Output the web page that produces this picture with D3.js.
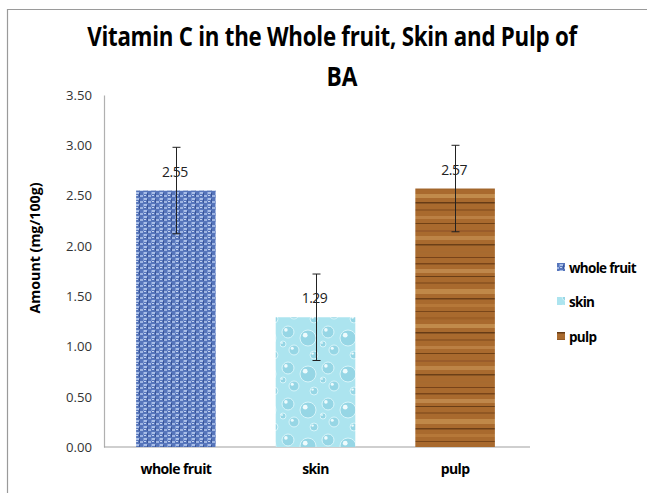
<!DOCTYPE html>
<html>
<head>
<meta charset="utf-8">
<script src="https://cdn.jsdelivr.net/npm/d3@7"></script>
<style>
body { margin: 0; background: #fff; }
svg { display: block; }
</style>
</head>
<body>
<svg id="chart" width="647" height="493"></svg>
<script>
const categories = ["whole fruit", "skin", "pulp"];
const values = [2.55, 1.29, 2.57];
const valueLabels = ["2.55", "1.29", "2.57"];
const errors = [0.43, 0.43, 0.43];
const yTicks = [0, 0.5, 1.0, 1.5, 2.0, 2.5, 3.0, 3.5];
const titleLines = ["Vitamin C in the Whole fruit, Skin and Pulp of", "BA"];
const yAxisTitle = "Amount (mg/100g)";
const patternIds = ["patWhole", "patSkin", "patPulp"];

const svg = d3.select("#chart");
const W = 647, H = 493;
const font = "Open Sans, Liberation Sans, sans-serif";

// frame (top and left border)
svg.append("line").attr("x1", 7).attr("x2", W).attr("y1", 9.5).attr("y2", 9.5).attr("stroke", "#9a9a9a").attr("stroke-width", 1.2);
svg.append("line").attr("x1", 7.5).attr("x2", 7.5).attr("y1", 9).attr("y2", H).attr("stroke", "#9a9a9a").attr("stroke-width", 1.2);

const defs = svg.append("defs");

// whole fruit: blue woven texture
const pw = defs.append("pattern").attr("id", "patWhole").attr("patternUnits", "userSpaceOnUse").attr("width", 8).attr("height", 6);
pw.append("rect").attr("width", 8).attr("height", 6).attr("fill", "#5675bb");
pw.append("rect").attr("x", 0).attr("y", 0).attr("width", 3).attr("height", 2).attr("fill", "#a9bfe8");
pw.append("rect").attr("x", 4).attr("y", 3).attr("width", 3).attr("height", 2).attr("fill", "#9db4e2");
pw.append("rect").attr("x", 3).attr("y", 1).attr("width", 1).attr("height", 4).attr("fill", "#3a5597");
pw.append("rect").attr("x", 7).attr("y", 0).attr("width", 1).attr("height", 3).attr("fill", "#7d98d3");
pw.append("rect").attr("x", 0).attr("y", 3).attr("width", 2).attr("height", 1).attr("fill", "#c4d3f0");

// skin: light cyan with droplets
const ps = defs.append("pattern").attr("id", "patSkin").attr("patternUnits", "userSpaceOnUse").attr("width", 40).attr("height", 36);
ps.append("rect").attr("width", 40).attr("height", 36).attr("fill", "#ace4ef");
[[8, 8, 6], [28, 14, 8], [14, 26, 5], [34, 31, 4], [3, 20, 3]].forEach(([cx, cy, r]) => {
  ps.append("circle").attr("cx", cx).attr("cy", cy).attr("r", r).attr("fill", "#96d6e5").attr("stroke", "#d8f5fa").attr("stroke-width", 1);
  ps.append("circle").attr("cx", cx - r * 0.35).attr("cy", cy - r * 0.35).attr("r", r * 0.3).attr("fill", "#eefbfd");
});

// pulp: wood grain stripes (irregular)
const pp = defs.append("pattern").attr("id", "patPulp").attr("patternUnits", "userSpaceOnUse").attr("width", 80).attr("height", 130);
pp.append("rect").attr("width", 80).attr("height", 130).attr("fill", "#a96a2e");
const stripes = [[3, 1.5, "#6b3b14"], [9, 4, "#c48f52"], [16, 1, "#5a3311"], [22, 2, "#8a5221"], [29, 5, "#c5904f"],
  [38, 1.5, "#5e3512"], [44, 3, "#b97c3c"], [51, 1, "#6d3d15"], [57, 2.5, "#9b5e26"], [64, 4, "#c79452"],
  [72, 1.5, "#553010"], [79, 2, "#8d5523"], [86, 3, "#bf864a"], [93, 1, "#61370f"], [100, 2, "#96592a"],
  [106, 4, "#c28b4d"], [114, 1.5, "#5b3412"], [121, 2.5, "#a66a30"], [127, 1, "#6a3a14"]];
stripes.forEach(([y, h, c]) => pp.append("rect").attr("x", 0).attr("y", y).attr("width", 80).attr("height", h).attr("fill", c).attr("opacity", 0.8));

// scales
const plot = { left: 104, right: 527, top: 95, bottom: 447 };
const x = d3.scaleBand().domain(categories).range([plot.left, plot.right]).paddingInner(0.43).paddingOuter(0.23);
const y = d3.scaleLinear().domain([0, 3.5]).range([plot.bottom, plot.top]);

// axes
const yAxis = d3.axisLeft(y).tickValues(yTicks).tickFormat(d3.format(".2f")).tickSize(0).tickPadding(12);
const gy = svg.append("g").attr("transform", `translate(${plot.left},0)`).call(yAxis);
gy.select(".domain").attr("stroke", "#b0b0b0").attr("stroke-width", 1.2);
gy.selectAll("text").attr("font-family", font).attr("font-size", 13.5).attr("fill", "#333").attr("textLength", 26).attr("lengthAdjust", "spacingAndGlyphs");

const xAxis = d3.axisBottom(x).tickSize(0).tickPadding(17);
const gx = svg.append("g").attr("transform", `translate(0,${plot.bottom})`).call(xAxis);
gx.select(".domain").attr("stroke", "#a0a0a0").attr("stroke-width", 1.2).attr("d", `M${plot.left},0H${plot.right + 3}`);
gx.selectAll("text").attr("font-family", font).attr("font-size", 14).attr("font-weight", "bold").attr("fill", "#000").attr("letter-spacing", -0.6);

// bars
svg.append("g").selectAll("rect").data(values).join("rect")
  .attr("x", (d, i) => x(categories[i]))
  .attr("y", d => y(d))
  .attr("width", x.bandwidth())
  .attr("height", d => y(0) - y(d))
  .attr("fill", (d, i) => `url(#${patternIds[i]})`);

// value labels
svg.append("g").selectAll("text").data(values).join("text")
  .attr("x", (d, i) => x(categories[i]) + x.bandwidth() / 2 - 1)
  .attr("y", d => y(d) - 14)
  .attr("text-anchor", "middle")
  .attr("font-family", font).attr("font-size", 14).attr("fill", "#222")
  .attr("letter-spacing", -0.5)
  .text((d, i) => valueLabels[i]);

// error bars
const eb = svg.append("g").attr("stroke", "#222").attr("stroke-width", 1);
values.forEach((v, i) => {
  const cx = Math.round(x(categories[i]) + x.bandwidth() / 2) + 0.5;
  const y1 = y(v + errors[i]), y2 = y(v - errors[i]);
  eb.append("line").attr("x1", cx).attr("x2", cx).attr("y1", y1).attr("y2", y2);
  eb.append("line").attr("x1", cx - 4).attr("x2", cx + 4).attr("y1", y1).attr("y2", y1);
  eb.append("line").attr("x1", cx - 4).attr("x2", cx + 4).attr("y1", y2).attr("y2", y2);
});

// title (horizontally condensed to mimic Calibri)
function fitText(sel, cx, cy, targetW) {
  const w = sel.node().getComputedTextLength();
  const s = Math.min(1, targetW / w);
  sel.attr("transform", `translate(${cx},${cy}) scale(${s},1)`);
}
const t1 = svg.append("text").attr("text-anchor", "middle")
  .attr("font-family", font).attr("font-size", 27).attr("font-weight", "bold").attr("fill", "#000")
  .attr("letter-spacing", -0.3)
  .text(titleLines[0]);
fitText(t1, 332, 46, 490);
const t2 = svg.append("text").attr("text-anchor", "middle")
  .attr("font-family", font).attr("font-size", 27).attr("font-weight", "bold").attr("fill", "#000")
  .text(titleLines[1]);
fitText(t2, 342, 86, 31);

// y-axis title
svg.append("text").attr("transform", "translate(40,248) rotate(-90)").attr("text-anchor", "middle")
  .attr("font-family", font).attr("font-size", 13.5).attr("font-weight", "bold").attr("fill", "#000")
  .attr("textLength", 131).attr("lengthAdjust", "spacingAndGlyphs")
  .text(yAxisTitle);

// legend
const lg = svg.append("g");
const legendY = [268, 302, 337];
categories.forEach((c, i) => {
  lg.append("rect").attr("x", 557).attr("y", legendY[i] - 5).attr("width", 8).attr("height", 8).attr("fill", `url(#${patternIds[i]})`);
  lg.append("text").attr("x", 569).attr("y", legendY[i] + 5)
    .attr("font-family", font).attr("font-size", 13.5).attr("font-weight", "bold").attr("fill", "#000")
    .attr("letter-spacing", -0.7)
    .text(c);
});
</script>
</body>
</html>
